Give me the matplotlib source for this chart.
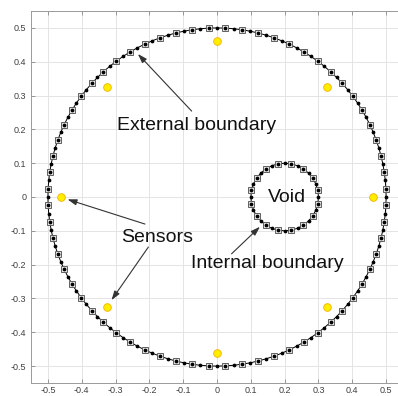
import numpy as np
import matplotlib
matplotlib.use("Agg")
import matplotlib.pyplot as plt

plt.rcParams["font.family"] = ["Liberation Sans", "DejaVu Sans"]

# boundary geometry
outer_center = (0.0, 0.0)
outer_radius = 0.5
outer_n_nodes = 128          # small dots; every other one carries a square
inner_center = (0.2, 0.0)
inner_radius = 0.1
inner_n_nodes = 32

# sensors: 8 points on a ring of radius ~0.46
sensor_x = [0.46, 0.325, 0.0, -0.325, -0.46, -0.325, 0.0, 0.325]
sensor_y = [0.0, 0.325, 0.46, 0.325, 0.0, -0.325, -0.46, -0.325]

ticks = [-0.5, -0.4, -0.3, -0.2, -0.1, 0, 0.1, 0.2, 0.3, 0.4, 0.5]
tick_labels = ["-0.5", "-0.4", "-0.3", "-0.2", "-0.1", "0",
               "0.1", "0.2", "0.3", "0.4", "0.5"]


def ring(center, radius, n):
    t = np.arange(n) * 2 * np.pi / n
    return center[0] + radius * np.cos(t), center[1] + radius * np.sin(t)


fig = plt.figure(figsize=(3.98, 3.96), dpi=100)
ax = fig.add_axes([31 / 398, 13 / 396, 372 / 398, 372 / 396])

for c, r, n in [(outer_center, outer_radius, outer_n_nodes),
                (inner_center, inner_radius, inner_n_nodes)]:
    x, y = ring(c, r, n)
    ax.plot(np.append(x, x[0]), np.append(y, y[0]), color="black", lw=0.7,
            zorder=3)
    ax.plot(x[1::2], y[1::2], ls="none", marker="s", ms=5.0,
            mfc="#e4e4e4", mec="#606060", mew=0.7, zorder=4)
    ax.plot(x, y, ls="none", marker="o", ms=1.7, color="black", zorder=5)

ax.plot(sensor_x, sensor_y, ls="none", marker="o", ms=5.5,
        mfc="#ffee00", mec="#f0b000", mew=0.6, zorder=6)

# ── labels and arrows ──────────────────────────────────────────────────────
arrow = dict(arrowstyle="-|>,head_length=0.55,head_width=0.18",
             color="#333333", lw=0.8, shrinkA=0, shrinkB=0)
fs = 14

ax.text(-0.061, 0.199, "External boundary", ha="center", va="baseline",
        fontsize=fs, color="#111111", zorder=7)
ax.annotate("", xy=(-0.234, 0.423), xytext=(-0.075, 0.254),
            arrowprops=arrow, zorder=7)

ax.text(-0.178, -0.134, "Sensors", ha="center", va="baseline",
        fontsize=fs, color="#111111", zorder=7)
ax.annotate("", xy=(-0.442, -0.007), xytext=(-0.213, -0.080),
            arrowprops=arrow, zorder=7)
ax.annotate("", xy=(-0.312, -0.305), xytext=(-0.203, -0.148),
            arrowprops=arrow, zorder=7)

ax.text(0.150, -0.211, "Internal boundary", ha="center", va="baseline",
        fontsize=fs, color="#111111", zorder=7)
ax.annotate("", xy=(0.127, -0.088), xytext=(0.043, -0.168),
            arrowprops=arrow, zorder=7)

ax.text(0.206, -0.014, "Void", ha="center", va="baseline",
        fontsize=fs, color="#111111", zorder=7)

# ── axes styling (MATLAB-like) ─────────────────────────────────────────────
ax.set_xlim(-0.55, 0.55)
ax.set_ylim(-0.55, 0.55)
ax.set_xticks(ticks)
ax.set_yticks(ticks)
ax.set_xticklabels(tick_labels)
ax.set_yticklabels(tick_labels)
ax.tick_params(direction="in", length=3, width=0.6, colors="#8a8a8a",
               labelcolor="#404040", labelsize=6.5, top=True, right=True)
ax.tick_params(axis="x", pad=2.5)
ax.tick_params(axis="y", pad=3.5)
ax.grid(True, color="#e4e4e4", lw=0.7)
ax.set_axisbelow(True)
for s in ax.spines.values():
    s.set_color("#9a9a9a")
    s.set_linewidth(0.7)

fig.savefig("out.png", dpi=100)
